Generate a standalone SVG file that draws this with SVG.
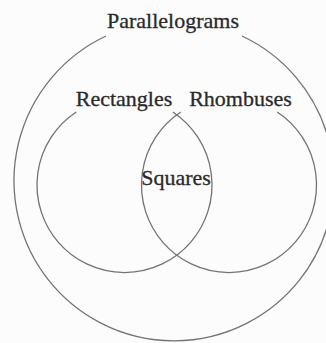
<svg xmlns="http://www.w3.org/2000/svg" width="326" height="343" viewBox="0 0 326 343">
<style>
.ring{fill:none;stroke:#737373;stroke-width:1.3}
.lbl{font-family:"Liberation Serif","Times New Roman",serif;font-size:22px;fill:#2a2a2a;stroke:#2a2a2a;stroke-width:0.3;text-anchor:middle}
</style>
<rect width="326" height="343" fill="#fcfcfc"/>
<g id="parallelograms">
<path class="ring" d="M 242 36 A 160 160 0 1 1 106 36"/>
<text class="lbl" x="173" y="28">Parallelograms</text>
</g>
<g id="rectangles">
<path class="ring" d="M 172.7 112 A 87.5 87.5 0 1 1 76.3 112"/>
<text class="lbl" x="124" y="106">Rectangles</text>
</g>
<g id="rhombuses">
<path class="ring" d="M 277.2 112 A 87.5 87.5 0 1 1 180.8 112"/>
<text class="lbl" x="240.5" y="106">Rhombuses</text>
</g>
<g id="squares">
<text class="lbl" x="176" y="185">Squares</text>
</g>
<g id="connectors"/>
</svg>
